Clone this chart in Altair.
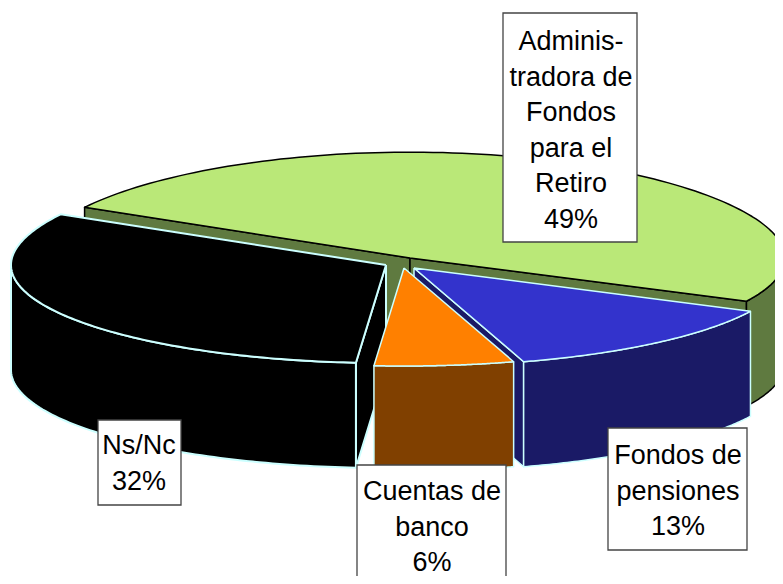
import numpy as np
import pandas as pd
import altair as alt

# --- chart values -------------------------------------------------------
names = ["Administradora de Fondos para el Retiro", "Fondos de pensiones", "Cuentas de banco", "Ns/Nc"]
shares = [49, 13, 6, 32]
label_lines = [
    ["Adminis-", "tradora de", "Fondos", "para el", "Retiro", "49%"],
    ["Fondos de", "pensiones", "13%"],
    ["Cuentas de", "banco", "6%"],
    ["Ns/Nc", "32%"],
]

# --- styling / layout ---------------------------------------------------
top_colors = ["#BAE878", "#3333CC", "#FF8000", "#000000"]
side_colors = ["#5F7A40", "#1A1A66", "#804000", "#000000"]
edge_colors = ["#000000", "#CCFFFF", "#CCFFFF", "#CCFFFF"]
edge_widths = [1.5, 1.5, 1.5, 2]
apex_x = [410, 414, 404, 386]
apex_y = [258, 268, 268, 265]
draw_order = [0, 3, 1, 2]
# which radial cut faces are turned to the viewer (start edge, end edge)
cut_faces = [(True, True), (False, True), (False, False), (True, False)]
box_x = [(503, 637), (608, 747), (357, 506), (98, 181)]
box_y = [(13, 242), (428, 550), (465, 600), (420, 505)]
text_x = [571, 678, 432, 139]
text_y0 = [42, 456, 492, 446]
line_gap = 35.6

A, B = 375, 98       # ellipse half axes
FAR = 0.08           # slight perspective stretch of the far half
H = 105              # wall height
START = -60.2        # angle of the first slice edge, degrees
FONT = "Liberation Sans"
SIZE = 27

X = alt.Scale(domain=[8, 775], nice=False, zero=False)
Y = alt.Scale(domain=[576, 8], nice=False, zero=False)


def disk(theta):
    t = np.radians(theta)
    u, v = np.sin(t), np.cos(t)
    return A * u, -B * v * (1 + FAR * np.maximum(v, 0))


def polygon(xs, ys, fill, stroke, width):
    xs = list(xs) + [xs[0]]
    ys = list(ys) + [ys[0]]
    df = pd.DataFrame({"x": xs, "y": ys, "i": range(len(xs))})
    return alt.Chart(df).mark_line(
        fill=fill, stroke=stroke, strokeWidth=width, strokeJoin="round", clip=True
    ).encode(
        x=alt.X("x:Q", scale=X, axis=None),
        y=alt.Y("y:Q", scale=Y, axis=None),
        order="i:Q",
    )


layers = []
edges = np.cumsum([0] + [s * 3.6 for s in shares]) + START
for k in draw_order:
    a0, a1 = edges[k], edges[k + 1]
    cx, cy = apex_x[k], apex_y[k]
    fill, side, ec, ew = top_colors[k], side_colors[k], edge_colors[k], edge_widths[k]

    # radial cut faces
    for flag, ang in zip(cut_faces[k], (a0, a1)):
        if flag:
            ex, ey = disk(ang)
            layers.append(polygon(
                [cx, cx + ex, cx + ex, cx],
                [cy, cy + ey, cy + ey + H, cy + H],
                side, ec, ew))

    # outer wall: only the front half of the rim can be seen
    lo, hi = max(a0, 90), min(a1, 270)
    if hi > lo:
        th = np.linspace(lo, hi, 80)
        ex, ey = disk(th)
        xs = np.r_[cx + ex, (cx + ex)[::-1]]
        ys = np.r_[cy + ey, (cy + ey + H)[::-1]]
        layers.append(polygon(xs, ys, side, ec, ew))

    # top face
    th = np.linspace(a0, a1, 120)
    ex, ey = disk(th)
    layers.append(polygon(np.r_[cx, cx + ex], np.r_[cy, cy + ey], fill, ec, ew))

# label boxes and text
boxes = pd.DataFrame({
    "x": [b[0] for b in box_x], "x2": [b[1] for b in box_x],
    "y": [b[0] for b in box_y], "y2": [b[1] for b in box_y],
    "name": names,
})
layers.append(alt.Chart(boxes).mark_rect(
    fill="#FFFFFF", stroke="#444444", strokeWidth=1.3, clip=True
).encode(
    x=alt.X("x:Q", scale=X, axis=None), x2="x2:Q",
    y=alt.Y("y:Q", scale=Y, axis=None), y2="y2:Q",
))

rows = []
for k, lines in enumerate(label_lines):
    for j, line in enumerate(lines):
        rows.append({"x": text_x[k], "y": text_y0[k] + j * line_gap, "t": line})
layers.append(alt.Chart(pd.DataFrame(rows)).mark_text(
    font=FONT, fontSize=SIZE, color="#000000", align="center", baseline="middle", clip=True
).encode(
    x=alt.X("x:Q", scale=X, axis=None),
    y=alt.Y("y:Q", scale=Y, axis=None),
    text="t:N",
))

chart = alt.layer(*layers).properties(width=767, height=568, padding=0).configure_view(strokeWidth=0)
chart.save("out.html", embed_options={"renderer": "svg", "actions": False})
